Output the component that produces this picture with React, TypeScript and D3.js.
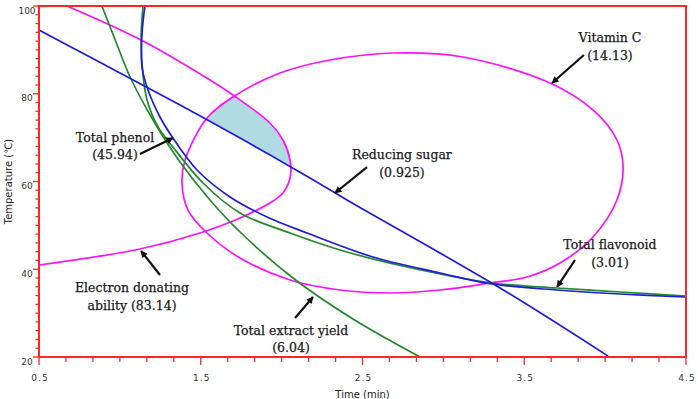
import React from 'react';
import * as d3 from 'd3';

// Overlaid contour plot: time (min) vs temperature (℃)

const xMajorTicks = [0.5, 1.5, 2.5, 3.5, 4.5];
const yMajorTicks = [20, 40, 60, 80, 100];
const xTickLabels = ['0.5', '1.5', '2.5', '3.5', '4.5'];
const yTickLabels = ['20', '40', '60', '80', '100'];

// Vitamin C (14.13) - closed contour
const vitaminCTime = [1.384, 1.403, 1.539, 1.699, 1.99, 2.299, 2.689, 3.121, 3.659, 3.925, 4.073, 4.111, 4.073, 3.925, 3.721, 3.517, 3.288, 2.979, 2.67, 2.361, 2.052, 1.743, 1.539, 1.421];
const vitaminCTemp = [59.66, 64.9, 74.47, 79.26, 84.73, 87.69, 89.29, 88.38, 82.45, 76.3, 69.46, 63.3, 55.78, 47.35, 41.42, 38.23, 36.87, 35.27, 34.59, 35.27, 37.55, 42.56, 48.26, 53.5];

// Electron donating ability (83.14)
const edaTime = [0.673, 1.143, 1.557, 1.699, 1.928, 2.008, 2.052, 2.052, 2.008, 1.947, 1.743, 1.495, 1.124, 0.5];
const edaTemp = [100, 92.02, 83.13, 79.72, 73.33, 69.46, 64.9, 60.8, 57.38, 55.56, 51.68, 48.26, 44.62, 40.97];

// Reducing sugar (0.925)
const sugarTime = [0.5, 0.815, 1.372, 1.743, 2.175, 2.404, 3.35, 4.018];
const sugarTemp = [94.53, 88.38, 77.44, 69.91, 60.8, 55.78, 35.73, 20.2];

// Total phenol (45.94)
const phenolTime = [1.155, 1.137, 1.137, 1.174, 1.248, 1.328, 1.477, 1.681, 1.91, 2.157, 2.565, 2.979, 3.301, 3.703, 4.092, 4.5];
const phenolTemp = [100, 93.85, 86.1, 80.85, 74.7, 69.91, 62.62, 56.47, 51.91, 48.26, 42.79, 39.15, 36.64, 35.27, 34.36, 33.68];

// Total flavonoid (3.01)
const flavonoidTime = [1.143, 1.131, 1.143, 1.168, 1.236, 1.328, 1.514, 1.743, 2.052, 2.361, 2.775, 3.301, 3.703, 4.092, 4.5];
const flavonoidTemp = [100, 92.25, 84.27, 78.58, 72.42, 67.86, 59.66, 52.82, 48.26, 44.39, 40.51, 36.87, 35.73, 34.81, 33.9];

// Total extract yield (6.04)
const extractTime = [0.889, 0.976, 1.063, 1.205, 1.372, 1.557, 1.743, 2.07, 2.441, 2.856];
const extractTemp = [100, 91.79, 83.82, 74.02, 64.44, 55.78, 48.49, 38.01, 28.66, 20.0];

// optimum region (shaded)
const optimumTime = [1.539, 1.607, 1.699, 1.817, 1.928, 2.008, 2.046, 2.052];
const optimumTemp = [74.02, 76.98, 79.49, 76.75, 73.33, 69.46, 66.04, 63.76];

// annotation labels
const labelLines = [
  ['Vitamin C', '(14.13)'],
  ['Total phenol', '(45.94)'],
  ['Reducing sugar', '(0.925)'],
  ['Total flavonoid', '(3.01)'],
  ['Electron donating', 'ability (83.14)'],
  ['Total extract yield', '(6.04)'],
];
const labelTime = [4.03, 0.97, 2.744, 4.03, 1.075, 2.058];
const labelTemp = [92.71, 70.14, 66.04, 45.53, 35.73, 26.15];
const arrowFromTime = [3.869, 1.124, 2.528, 3.814, 1.248, 2.083];
const arrowFromTemp = [88.83, 66.27, 63.3, 42.11, 38.69, 28.89];
const arrowToTime = [3.672, 1.328, 2.33, 3.703, 1.131, 2.194];
const arrowToTemp = [82.45, 69.91, 57.38, 35.96, 44.16, 33.68];

const zip = (a: number[], b: number[]): [number, number][] => a.map((v, i) => [v, b[i]]);

const App: React.FC = () => {
  const width = 698;
  const height = 399;
  const plot = { left: 39, right: 686, top: 6, bottom: 357 };

  const x = d3.scaleLinear().domain([0.5, 4.5]).range([plot.left, plot.right]);
  const y = d3.scaleLinear().domain([20, 100]).range([plot.bottom, plot.top]);

  const line = d3.line<[number, number]>()
    .x(d => x(d[0]))
    .y(d => y(d[1]))
    .curve(d3.curveCatmullRom.alpha(0.5));

  const closed = d3.line<[number, number]>()
    .x(d => x(d[0]))
    .y(d => y(d[1]))
    .curve(d3.curveCatmullRomClosed.alpha(0.5));

  const area = d3.line<[number, number]>()
    .x(d => x(d[0]))
    .y(d => y(d[1]))
    .curve(d3.curveLinearClosed);

  const magenta = '#ff10ff';
  const blue = '#1c1ce0';
  const green = '#23892a';
  const red = '#ff2626';

  const xMinor = d3.range(0, 25).map(i => 0.5 + i / 6);
  const yMinor = d3.range(20, 101, 2);

  const curves = [
    { d: closed(zip(vitaminCTime, vitaminCTemp)), c: magenta },
    { d: line(zip(edaTime, edaTemp)), c: magenta },
    { d: line(zip(extractTime, extractTemp)), c: green },
    { d: line(zip(flavonoidTime, flavonoidTemp)), c: green },
    { d: line(zip(sugarTime, sugarTemp)), c: blue },
    { d: line(zip(phenolTime, phenolTemp)), c: blue },
  ];

  return (
    <svg width={width} height={height} style={{ position: 'absolute', left: 0, top: 0, background: '#fff' }}>
      <defs>
        <clipPath id="plotClip">
          <rect x={plot.left} y={plot.top} width={plot.right - plot.left} height={plot.bottom - plot.top} />
        </clipPath>
        <marker id="arrowHead" viewBox="0 0 10 10" refX="9" refY="5" markerWidth="9" markerHeight="7"
          markerUnits="userSpaceOnUse" orient="auto">
          <path d="M0,0 L10,5 L0,10 z" fill="#111" />
        </marker>
      </defs>

      <g clipPath="url(#plotClip)">
        <path d={area(zip(optimumTime, optimumTemp)) ?? ''} fill="#b0dbe2" stroke="none" />
        {curves.map((c, i) => (
          <path key={i} d={c.d ?? ''} fill="none" stroke={c.c} strokeWidth={1.7} />
        ))}
      </g>

      {/* annotations */}
      <g fontFamily="'DejaVu Serif', serif" fontSize={12.5} fill="#1a1a1a" stroke="#1a1a1a" strokeWidth={0.25}
        textAnchor="middle">
        {labelLines.map((lines, i) => (
          <g key={i}>
            {lines.map((t, j) => (
              <text key={j} x={x(labelTime[i])} y={y(labelTemp[i]) + 4.5 + j * 17.5}>{t}</text>
            ))}
            <line x1={x(arrowFromTime[i])} y1={y(arrowFromTemp[i])} x2={x(arrowToTime[i])} y2={y(arrowToTemp[i])}
              stroke="#111" strokeWidth={2.2} markerEnd="url(#arrowHead)" />
          </g>
        ))}
      </g>

      {/* axes frame */}
      <rect x={plot.left} y={plot.top} width={plot.right - plot.left} height={plot.bottom - plot.top}
        fill="none" stroke={red} strokeWidth={2} />
      <g stroke={red} strokeWidth={1.3}>
        {xMinor.map((v, i) => {
          const major = xMajorTicks.some(m => Math.abs(m - v) < 1e-6);
          return <line key={'x' + i} x1={x(v)} x2={x(v)} y1={plot.bottom} y2={plot.bottom + (major ? 8 : 5)} />;
        })}
        {yMinor.map((v, i) => {
          const major = yMajorTicks.includes(v);
          return <line key={'y' + i} x1={plot.left} x2={plot.left - (major ? 6 : 3.5)} y1={y(v)} y2={y(v)} />;
        })}
      </g>

      <g fontFamily="'DejaVu Sans', sans-serif" fontSize={9} fill="#333" textAnchor="middle">
        {xMajorTicks.map((v, i) => (
          <text key={i} x={x(v) + 1} y={plot.bottom + 24} letterSpacing={1}>{xTickLabels[i]}</text>
        ))}
        {yMajorTicks.map((v, i) => (
          <text key={i} x={27} y={y(v) + 7.5}>{yTickLabels[i]}</text>
        ))}
      </g>

      <text x={(plot.left + plot.right) / 2} y={398} textAnchor="middle"
        fontFamily="'DejaVu Sans', sans-serif" fontSize={10} fill="#222">Time (min)</text>
      <text transform={`translate(12,${(plot.top + plot.bottom) / 2}) rotate(-90)`} textAnchor="middle"
        fontFamily="'DejaVu Sans', sans-serif" fontSize={10} fill="#222">Temperature (℃)</text>
    </svg>
  );
};

export default App;
